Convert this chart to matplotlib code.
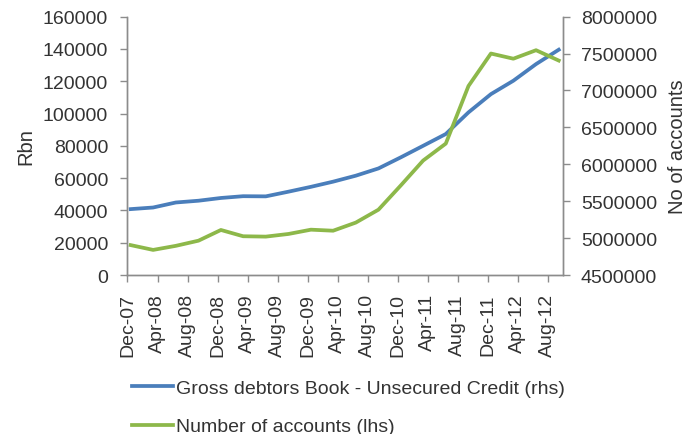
import pandas as pd
import matplotlib
matplotlib.use('Agg')
import matplotlib.pyplot as plt
import matplotlib.dates as mdates
from matplotlib.ticker import StrMethodFormatter

plt.rcParams['font.family'] = ['Liberation Sans', 'DejaVu Sans']

# quarterly observations
quarters = ['Dec-07', 'Mar-08', 'Jun-08', 'Sep-08', 'Dec-08', 'Mar-09', 'Jun-09',
            'Sep-09', 'Dec-09', 'Mar-10', 'Jun-10', 'Sep-10', 'Dec-10', 'Mar-11',
            'Jun-11', 'Sep-11', 'Dec-11', 'Mar-12', 'Jun-12', 'Sep-12']

# gross debtors book, unsecured credit (Rbn)
debtors_book = [40800, 41800, 44900, 46000, 47700, 48800, 48700, 51600, 54600, 57800,
                61500, 66000, 72900, 80000, 87300, 100700, 112000, 120300, 130600, 139500]

# number of accounts
accounts = [4905000, 4840000, 4895000, 4965000, 5110000, 5025000, 5020000, 5056000,
            5114000, 5100000, 5210000, 5385000, 5715000, 6050000, 6280000, 7060000,
            7500000, 7430000, 7545000, 7405000]

blue = '#4a7ebb'
green = '#8db84a'
grey = '#8c8c8c'
text_col = '#333333'

dates = pd.to_datetime(quarters, format='%b-%y') + pd.Timedelta(days=13)

fig = plt.figure(figsize=(6.89, 4.35), dpi=100)
ax = fig.add_axes([0.185, 0.3655, 0.632, 0.594])
ax2 = ax.twinx()

l1, = ax.plot(dates, debtors_book, color=blue, linewidth=2.7,
              label='Gross debtors Book - Unsecured Credit (rhs)')
l2, = ax2.plot(dates, accounts, color=green, linewidth=2.7,
               label='Number of accounts (lhs)')

ax.set_xlim(pd.Timestamp('2007-12-01'), pd.Timestamp('2012-10-01'))
ax.set_ylim(0, 160000)
ax.set_yticks(range(0, 160001, 20000))
ax2.set_ylim(4500000, 8000000)
ax2.set_yticks(range(4500000, 8000001, 500000))
ax2.yaxis.set_major_formatter(StrMethodFormatter('{x:.0f}'))

ax.xaxis.set_major_locator(mdates.MonthLocator(bymonth=[4, 8, 12]))
ax.xaxis.set_major_formatter(mdates.DateFormatter('%b-%y'))

for a in (ax, ax2):
    for s in a.spines.values():
        s.set_color(grey)
        s.set_linewidth(1.0)
    a.spines['top'].set_visible(False)
    a.tick_params(colors=grey, labelcolor=text_col, labelsize=14,
                  length=5, width=1.0)

ax.tick_params(axis='y', pad=9)
ax2.tick_params(axis='y', pad=8)
ax.tick_params(axis='x', rotation=90, pad=8)

ax.set_ylabel('Rbn', fontsize=14.5, color=text_col, labelpad=5)
ax2.set_ylabel('No of accounts', fontsize=14.5, color=text_col, labelpad=8)

fig.legend(handles=[l1, l2], loc='upper left', bbox_to_anchor=(0.1916, 0.125),
           frameon=False, fontsize=14, handlelength=2.1, handletextpad=0.15,
           labelspacing=1.06, borderpad=0, borderaxespad=0)
for t in fig.legends[0].get_texts():
    t.set_color(text_col)

plt.savefig('out.png', dpi=100)
